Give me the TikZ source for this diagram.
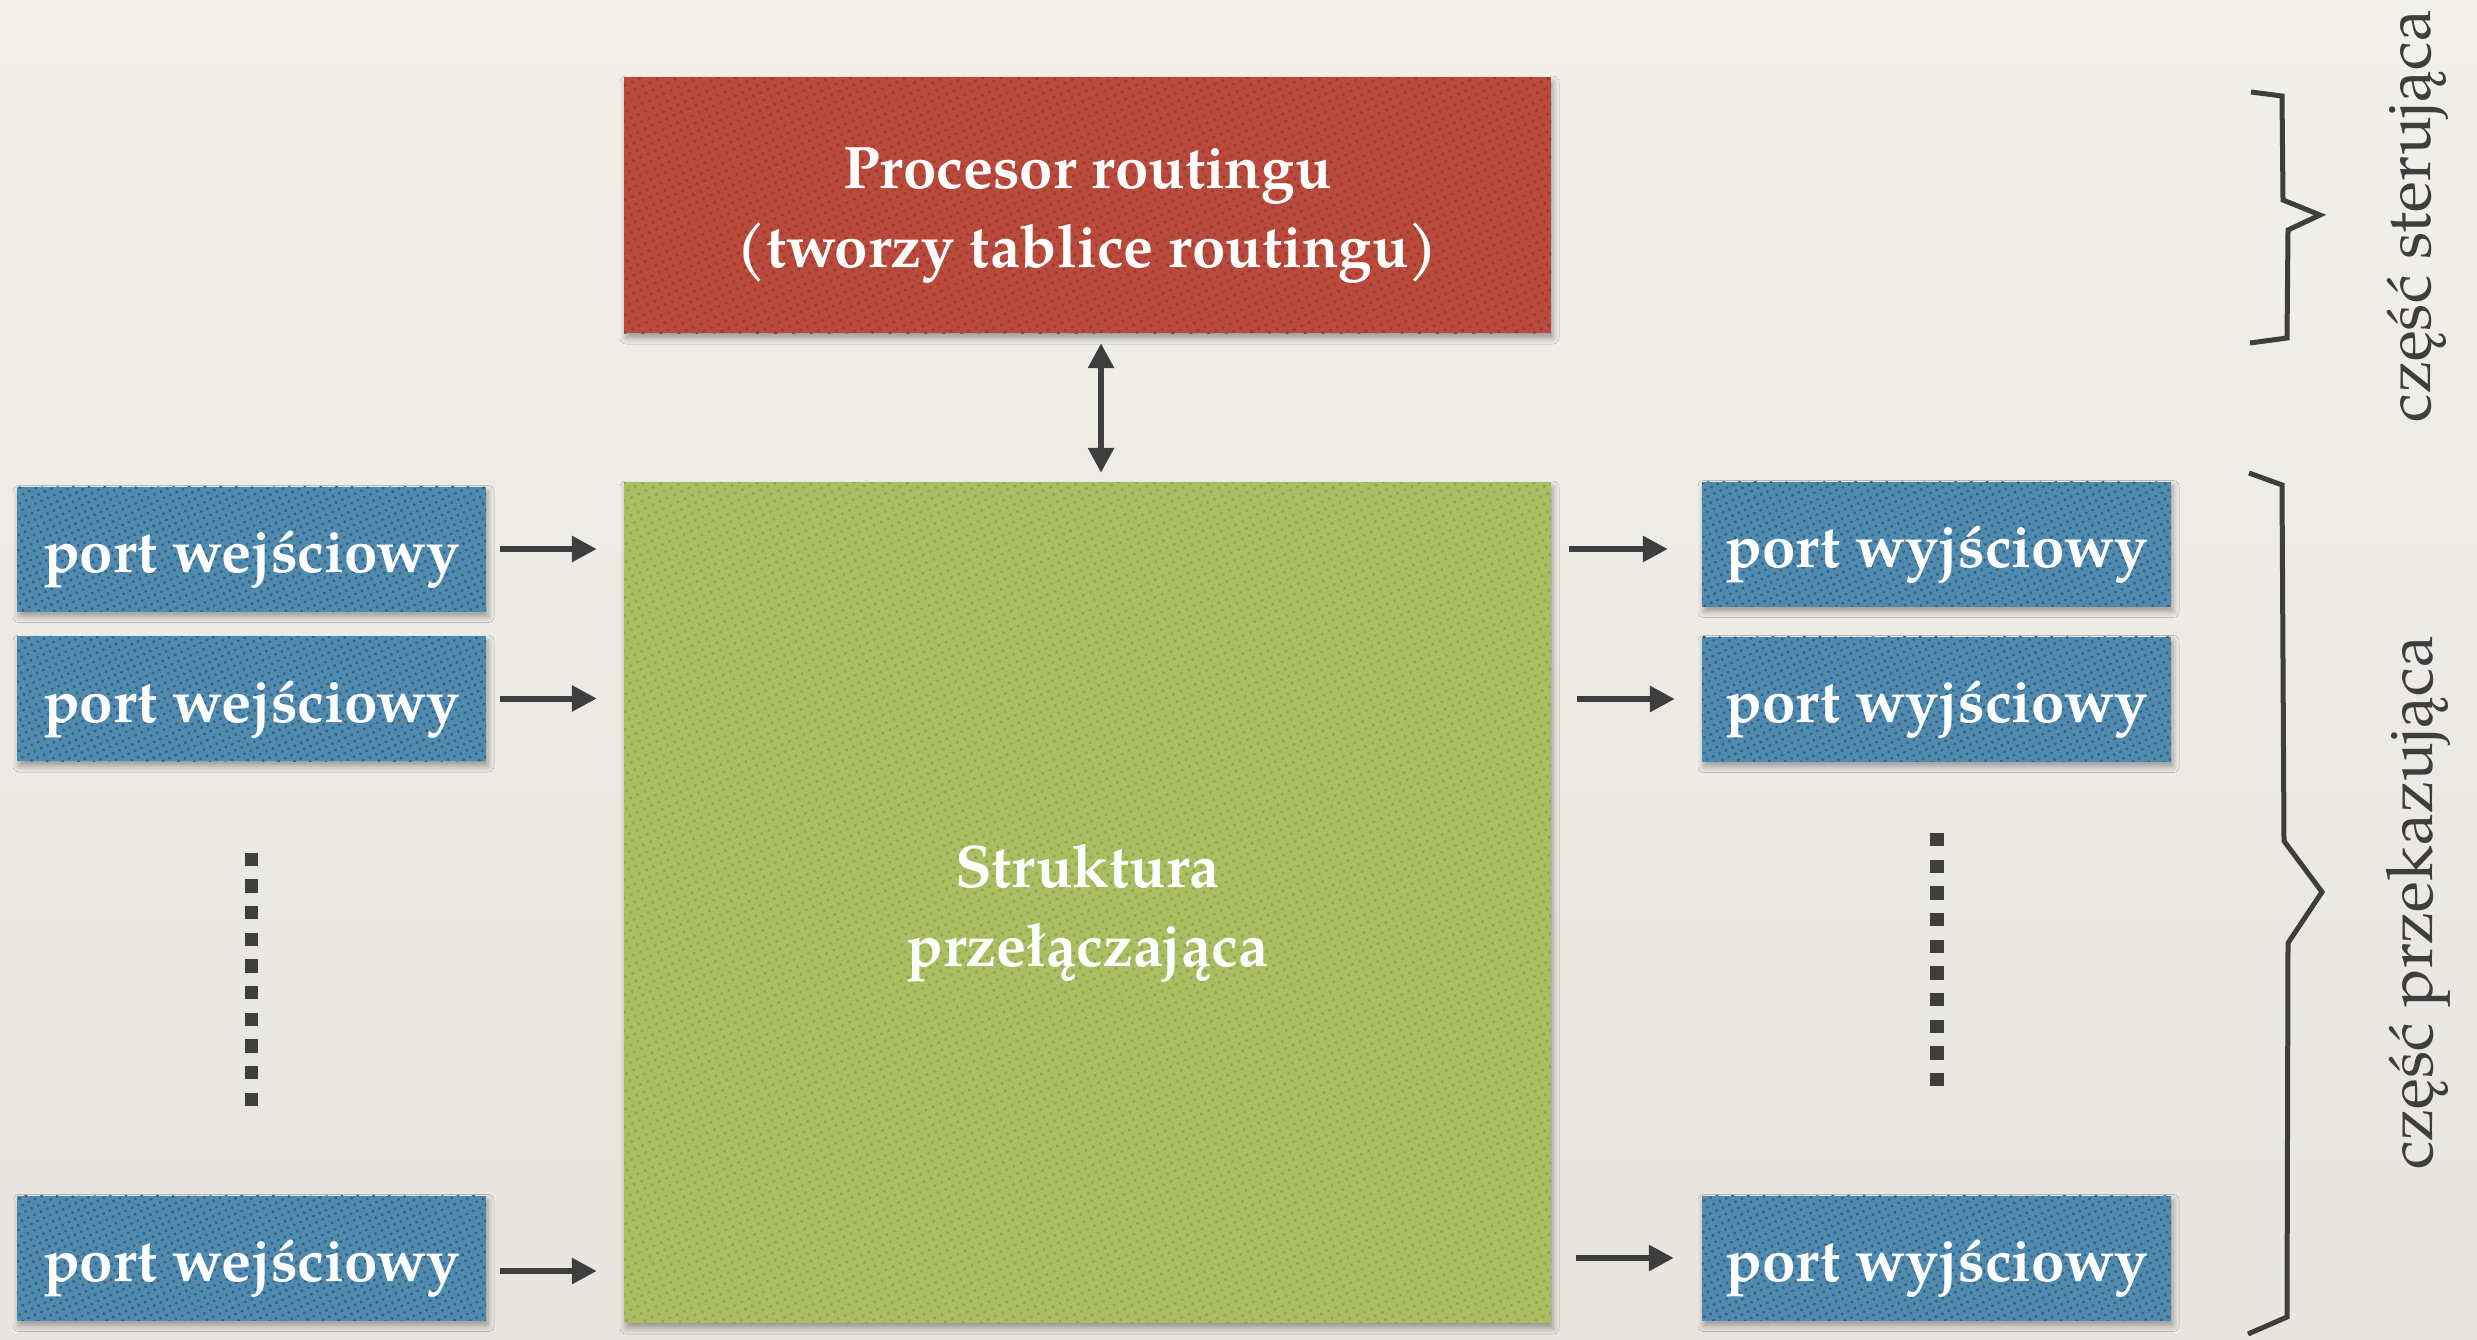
\documentclass[tikz,border=0pt]{standalone}
\usepackage{fontspec}
\setmainfont{texgyrepagella}[Extension=.otf, UprightFont=*-regular, BoldFont=*-bold, ItalicFont=*-italic, BoldItalicFont=*-bolditalic]
\usetikzlibrary{arrows.meta, patterns.meta, shadows.blur}

\definecolor{paperTop}{RGB}{242,240,235}
\definecolor{paperBot}{RGB}{232,229,224}
\definecolor{ink}{RGB}{62,62,62}
\definecolor{redBase}{RGB}{186,75,60}
\definecolor{redDot}{RGB}{160,58,47}
\definecolor{blueBase}{RGB}{80,139,175}
\definecolor{blueDot}{RGB}{50,98,134}
\definecolor{greenBase}{RGB}{172,190,98}
\definecolor{greenDot}{RGB}{146,166,78}

\tikzset{
  panel/.style={inner sep=0pt,
    blur shadow={shadow xshift=2pt, shadow yshift=-5pt, shadow blur radius=6pt, shadow opacity=35}},
  paneltext/.style={inner sep=0pt, text=white, align=center, yshift=-11pt,
    font=\bfseries\fontsize{60}{79}\selectfont},
  redpanel/.style={panel, preaction={fill=redBase},
    pattern={Dots[distance=8pt, radius=1.9pt, angle=25]}, pattern color=redDot},
  bluepanel/.style={panel, preaction={fill=blueBase},
    pattern={Dots[distance=7pt, radius=1.7pt, angle=25]}, pattern color=blueDot,
    minimum width=469pt, minimum height=125pt},
  greenpanel/.style={panel, preaction={fill=greenBase},
    pattern={Dots[distance=8pt, radius=1.9pt, angle=25]}, pattern color=greenDot},
  flow/.style={draw=ink, line width=6pt, -{Triangle[length=25pt, width=25pt]}},
  bothflow/.style={draw=ink, line width=6pt, {Triangle[length=25pt, width=25pt]}-{Triangle[length=25pt, width=25pt]}},
  brace/.style={draw=ink, line width=5pt, line join=miter},
  ellipsis/.style={draw=ink, line width=13.3pt, dash pattern=on 13.33pt off 13.33pt},
  sidelabel/.style={rotate=90, text=ink, inner sep=0pt, font=\fontsize{64}{70}\selectfont}
}

\begin{document}
\begin{tikzpicture}[x=1pt, y=-1pt]
  % paper background
  \shade[top color=paperTop, bottom color=paperBot] (0,0) rectangle (2477,1339);
  \useasboundingbox (0,0) rectangle (2477,1339);

  % routing processor and switching fabric
  \node[redpanel, minimum width=927pt, minimum height=256pt,
    label={[name=rpText, paneltext]center:{Procesor routingu\\(tworzy tablice routingu)}}]
    (rp) at (1087.5,205) {};
  \node[greenpanel, minimum width=927pt, minimum height=841pt,
    label={[name=swText, paneltext]center:{Struktura\\przełączająca}}]
    (sw) at (1087.5,902.5) {};

  % input ports
  \node[bluepanel, label={[name=in1Text, paneltext]center:port wejściowy}] (in1) at (251.5,549) {};
  \node[bluepanel, label={[name=in2Text, paneltext]center:port wejściowy}] (in2) at (251.5,698.5) {};
  \node[bluepanel, label={[name=in3Text, paneltext]center:port wejściowy}] (in3) at (251.5,1258) {};

  % output ports
  \node[bluepanel, label={[name=out1Text, paneltext]center:port wyjściowy}] (out1) at (1936.5,544) {};
  \node[bluepanel, label={[name=out2Text, paneltext]center:port wyjściowy}] (out2) at (1936.5,699) {};
  \node[bluepanel, label={[name=out3Text, paneltext]center:port wyjściowy}] (out3) at (1936.5,1258) {};

  % processor <-> fabric
  \draw[bothflow, shorten <=10pt, shorten >=9pt]
    ([xshift=13.5pt]rp.south) -- ([xshift=13.5pt]sw.north);

  % inputs -> fabric
  \draw[flow, shorten <=14pt, shorten >=27pt] (in1.east) -- (in1.east -| sw.west);
  \draw[flow, shorten <=14pt, shorten >=27pt] (in2.east) -- (in2.east -| sw.west);
  \draw[flow, shorten <=14pt, shorten >=27pt]
    ([yshift=-13pt]in3.east) -- ([yshift=-13pt]in3.east -| sw.west);

  % fabric -> outputs
  \draw[flow, shorten <=18pt, shorten >=34pt]
    ([yshift=-5pt]out1.west -| sw.east) -- ([yshift=-5pt]out1.west);
  \draw[flow, shorten <=26pt, shorten >=27pt] (out2.west -| sw.east) -- (out2.west);
  \draw[flow, shorten <=25pt, shorten >=28pt] (out3.west -| sw.east) -- (out3.west);

  % vertical ellipses between ports
  \coordinate (lgapTop) at (251.5,852.7);
  \coordinate (lgapBot) at (251.5,1106);
  \coordinate (rgapTop) at (1937,833);
  \coordinate (rgapBot) at (1937,1086.3);
  \draw[ellipsis] (lgapTop) -- (lgapBot);
  \draw[ellipsis] (rgapTop) -- (rgapBot);

  % braces
  \draw[brace] (2251,92) -- (2282,96) -- (2283,200) -- (2320,215) -- (2288,230)
    -- (2287,338) -- (2250,343);
  \draw[brace] (2249,473) -- (2282,485) -- (2284,841) -- (2322,892) -- (2288,943)
    -- (2287,1317) -- (2248,1334);

  % side labels
  \node[sidelabel] (ctrl) at (2418,216) {część sterująca};
  \node[sidelabel] (fwd) at (2418,903) {część przekazująca};
\end{tikzpicture}
\end{document}
